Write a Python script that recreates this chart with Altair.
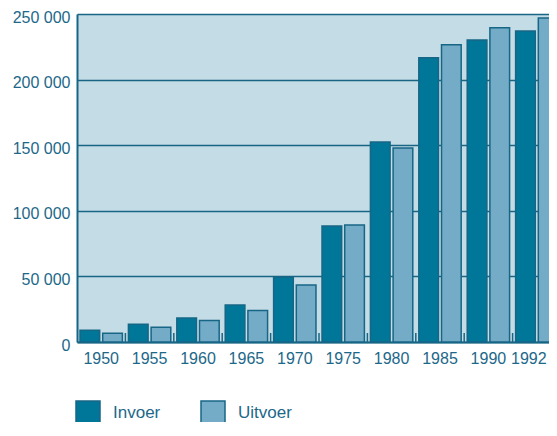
import altair as alt
import pandas as pd

years = ["1950", "1955", "1960", "1965", "1970", "1975", "1980", "1985", "1990", "1992"]
series = ["Invoer", "Uitvoer"]
invoer = [9000, 13500, 18300, 28200, 49500, 88400, 152400, 216700, 230200, 237000]
uitvoer = [6600, 11200, 16300, 24100, 43400, 89200, 147900, 226600, 239600, 247000]
y_ticks = [0, 50000, 100000, 150000, 200000, 250000]

rows = []
for i, y in enumerate(years):
    rows.append({"year": y, "series": "Invoer", "value": invoer[i]})
    rows.append({"year": y, "series": "Uitvoer", "value": uitvoer[i]})
df = pd.DataFrame(rows)
sep_df = pd.DataFrame({"year": years[1:]})

DARK = "#176686"
TEXT = "#1d6889"
FILL_DARK = "#007698"
FILL_LIGHT = "#74acc7"
BG = "#c4dce6"
FONT = "Liberation Sans"

x_enc = alt.X(
    "year:N",
    sort=years,
    scale=alt.Scale(paddingInner=0, paddingOuter=0, range=[0, 484]),
    axis=alt.Axis(
        title=None, labelAngle=0, labelFontSize=16, labelColor=TEXT, labelFont=FONT,
        labelPadding=8, ticks=False, domainColor=DARK, domainWidth=2, grid=False,
        labelOffset={"condition": {"test": "datum.value == '1992'", "value": -8}, "value": 0},
    ),
)

bars = alt.Chart(df).mark_bar(stroke=DARK, strokeWidth=1.5).encode(
    x=x_enc,
    xOffset=alt.XOffset(
        "series:N", sort=series,
        scale=alt.Scale(paddingInner=0.133, paddingOuter=0.133),
    ),
    y=alt.Y(
        "value:Q",
        scale=alt.Scale(domain=[0, 250000], nice=False),
        axis=alt.Axis(
            title=None, values=y_ticks,
            labelExpr="datum.value == 0 ? '0' : floor(datum.value / 1000) + ' 000'",
            grid=True, gridColor=DARK, gridWidth=1.6, ticks=False,
            domainColor=DARK, domainWidth=2, labelPadding=7, labelOffset=3,
            labelFontSize=16, labelColor=TEXT, labelFont=FONT, labelFlush=False,
        ),
    ),
    color=alt.Color(
        "series:N", sort=series,
        scale=alt.Scale(domain=series, range=[FILL_DARK, FILL_LIGHT]),
        legend=alt.Legend(
            title=None, orient="none", legendX=-2, legendY=386, direction="horizontal",
            symbolType="square", symbolSize=576, symbolStrokeColor=DARK,
            symbolStrokeWidth=1.5, symbolOpacity=1,
            labelFontSize=17, labelFont=FONT, labelColor=TEXT, labelOffset=12,
            columnPadding=37, padding=0,
        ),
    ),
)

seps = alt.Chart(sep_df).mark_rule(color=DARK, strokeWidth=1.5).encode(
    x=alt.X("year:N", sort=years, bandPosition=0),
    y=alt.value(319),
    y2=alt.value(328),
)

chart = alt.layer(bars, seps).properties(
    width=472,
    height=328,
    autosize=alt.AutoSizeParams(type="none"),
    padding={"left": 69, "top": 6, "right": 0, "bottom": 80},
    background="white",
).configure_view(
    fill=BG, stroke="transparent",
)

chart.save("out.html", embed_options={"renderer": "svg", "actions": False})
